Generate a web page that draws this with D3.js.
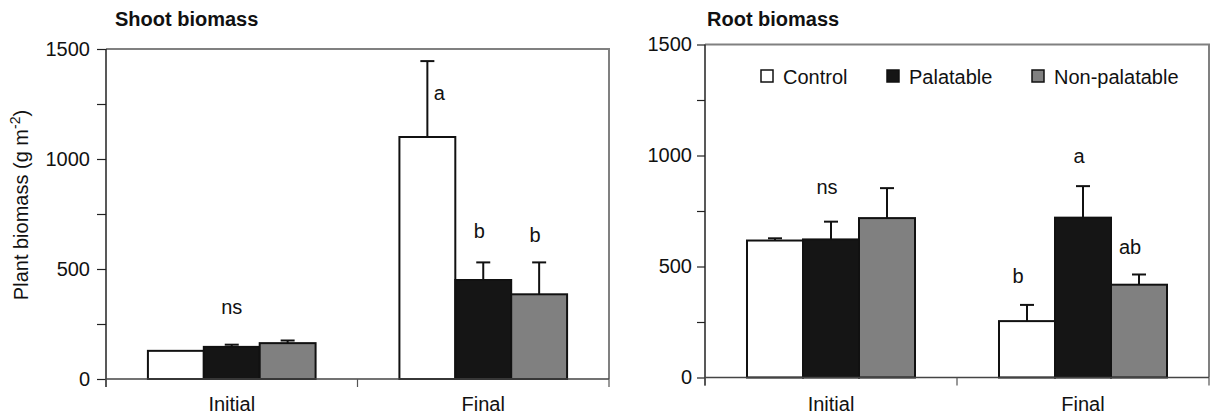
<!DOCTYPE html>
<html>
<head>
<meta charset="utf-8">
<script src="https://cdn.jsdelivr.net/npm/d3@7"></script>
<style>
  body { margin: 0; background: #fff; }
  svg { display: block; font-family: "Liberation Sans", Arial, Helvetica, sans-serif; }
</style>
</head>
<body>
<svg id="chart" width="1212" height="415"></svg>
<script>
// ---- data ----
const categories = ["Initial", "Final"];
const seriesNames = ["Control", "Palatable", "Non-palatable"];
const seriesColors = ["#ffffff", "#151515", "#808080"];
const yTicks = [0, 250, 500, 750, 1000, 1250, 1500];
const yTickLabels = ["0", "", "500", "", "1000", "", "1500"];

// Shoot biomass: values[category][series], error = upper SE
const shootValues = [[128, 146, 163], [1100, 450, 385]];
const shootErrors = [[0, 10, 12], [345, 80, 145]];
const shootLetters = ["ns", "a", "b", "b"];
const shootLetterCat = [0, 1, 1, 1];
const shootLetterSeries = [1, 0, 1, 2];
const shootLetterValue = [327, 1300, 673, 655];
const shootLetterShift = [0, 12, -4, -4];

// Root biomass
const rootValues = [[617, 622, 718], [254, 720, 418]];
const rootErrors = [[10, 80, 135], [73, 142, 46]];
const rootLetters = ["ns", "a", "b", "ab"];
const rootLetterCat = [0, 1, 1, 1];
const rootLetterSeries = [1, 1, 0, 2];
const rootLetterValue = [858, 997, 456, 588];
const rootLetterShift = [-4, -4, -9, -9];

const svg = d3.select("#chart");
const FS = 20;

function panel(opt) {
  const g = svg.append("g");
  const x0 = d3.scaleBand().domain(categories).range([opt.left, opt.right]).padding(0);
  const bw = x0.bandwidth();
  const x1 = d3.scaleBand().domain(seriesNames).range([bw / 6, bw * 5 / 6]).padding(0);
  const y = d3.scaleLinear().domain([0, 1500]).range([opt.bottom, opt.top]);

  // frame top & right (gray)
  g.append("path")
    .attr("d", `M${opt.left},${opt.top}H${opt.right}V${opt.bottom}`)
    .attr("fill", "none").attr("stroke", "#808080").attr("stroke-width", 2);

  // bars
  categories.forEach((c, ci) => {
    seriesNames.forEach((s, si) => {
      const v = opt.values[ci][si];
      const xs = x0(c) + x1(s);
      g.append("rect")
        .attr("x", xs).attr("y", y(v))
        .attr("width", x1.bandwidth()).attr("height", y(0) - y(v))
        .attr("fill", seriesColors[si]).attr("stroke", "#111").attr("stroke-width", 2);
      const e = opt.errors[ci][si];
      if (e > 0) {
        const cx = xs + x1.bandwidth() / 2;
        g.append("line").attr("x1", cx).attr("x2", cx).attr("y1", y(v)).attr("y2", y(v + e))
          .attr("stroke", "#111").attr("stroke-width", 2);
        g.append("line").attr("x1", cx - 7).attr("x2", cx + 7).attr("y1", y(v + e)).attr("y2", y(v + e))
          .attr("stroke", "#111").attr("stroke-width", 2);
      }
    });
  });

  // y axis
  const yAxis = d3.axisLeft(y).tickValues(yTicks)
    .tickFormat((d, i) => yTickLabels[i]).tickSize(opt.tick).tickPadding(opt.pad);
  const ya = g.append("g").attr("transform", `translate(${opt.left},0)`).call(yAxis);
  ya.select(".domain").attr("stroke", "#222").attr("stroke-width", 1.5)
    .attr("d", `M0,${opt.top}V${opt.bottom + 8}`);
  ya.selectAll(".tick line").attr("stroke", "#222").attr("stroke-width", 1.2);
  ya.selectAll(".tick text").attr("font-size", FS).attr("fill", "#111")
    .attr("font-family", "Liberation Sans, Arial, sans-serif");

  // x axis
  const xa = g.append("g");
  xa.append("line").attr("x1", opt.left).attr("x2", opt.right)
    .attr("y1", opt.bottom).attr("y2", opt.bottom)
    .attr("stroke", "#444").attr("stroke-width", 1.5);
  const bounds = categories.map(c => x0(c)).concat([opt.right]);
  bounds.forEach(b => {
    xa.append("line").attr("x1", b).attr("x2", b).attr("y1", opt.bottom).attr("y2", opt.bottom + 8)
      .attr("stroke", "#555").attr("stroke-width", 1.2);
  });
  categories.forEach(c => {
    xa.append("text").attr("x", x0(c) + bw / 2).attr("y", 411)
      .attr("text-anchor", "middle").attr("font-size", FS).attr("fill", "#111").text(c);
  });

  // letters
  opt.letters.forEach((t, i) => {
    const c = categories[opt.letterCat[i]];
    const s = seriesNames[opt.letterSeries[i]];
    g.append("text")
      .attr("x", x0(c) + x1(s) + x1.bandwidth() / 2 + opt.letterShift[i])
      .attr("y", y(opt.letterValue[i]))
      .attr("dy", "0.35em")
      .attr("text-anchor", "middle").attr("font-size", FS).attr("fill", "#111").text(t);
  });

  // title
  g.append("text").attr("x", opt.titleX).attr("y", 26)
    .attr("font-size", FS).attr("font-weight", "bold").attr("fill", "#111").text(opt.title);

  return { g, y };
}

panel({
  left: 106, right: 609, top: 49, bottom: 379, tick: 9, pad: 7,
  values: shootValues, errors: shootErrors,
  letters: shootLetters, letterCat: shootLetterCat, letterSeries: shootLetterSeries,
  letterValue: shootLetterValue, letterShift: shootLetterShift,
  title: "Shoot biomass", titleX: 115
});

const right = panel({
  left: 705, right: 1209, top: 44.5, bottom: 377.5, tick: 8, pad: 5,
  values: rootValues, errors: rootErrors,
  letters: rootLetters, letterCat: rootLetterCat, letterSeries: rootLetterSeries,
  letterValue: rootLetterValue, letterShift: rootLetterShift,
  title: "Root biomass", titleX: 707
});

// legend (inside right panel)
const legendX = [761, 887, 1032];
const leg = svg.append("g");
seriesNames.forEach((s, i) => {
  leg.append("rect").attr("x", legendX[i]).attr("y", 70).attr("width", 12).attr("height", 12)
    .attr("fill", seriesColors[i]).attr("stroke", "#111").attr("stroke-width", 1.5);
  leg.append("text").attr("x", legendX[i] + 22).attr("y", 83.5)
    .attr("font-size", FS).attr("fill", "#111").text(s);
});

// y axis title
const yt = svg.append("text")
  .attr("transform", "translate(28,205) rotate(-90)")
  .attr("text-anchor", "middle").attr("font-size", FS).attr("fill", "#111");
yt.append("tspan").text("Plant biomass (g m");
yt.append("tspan").attr("font-size", 14).attr("dy", -8).text("-2");
yt.append("tspan").attr("dy", 8).text(")");
</script>
</body>
</html>
